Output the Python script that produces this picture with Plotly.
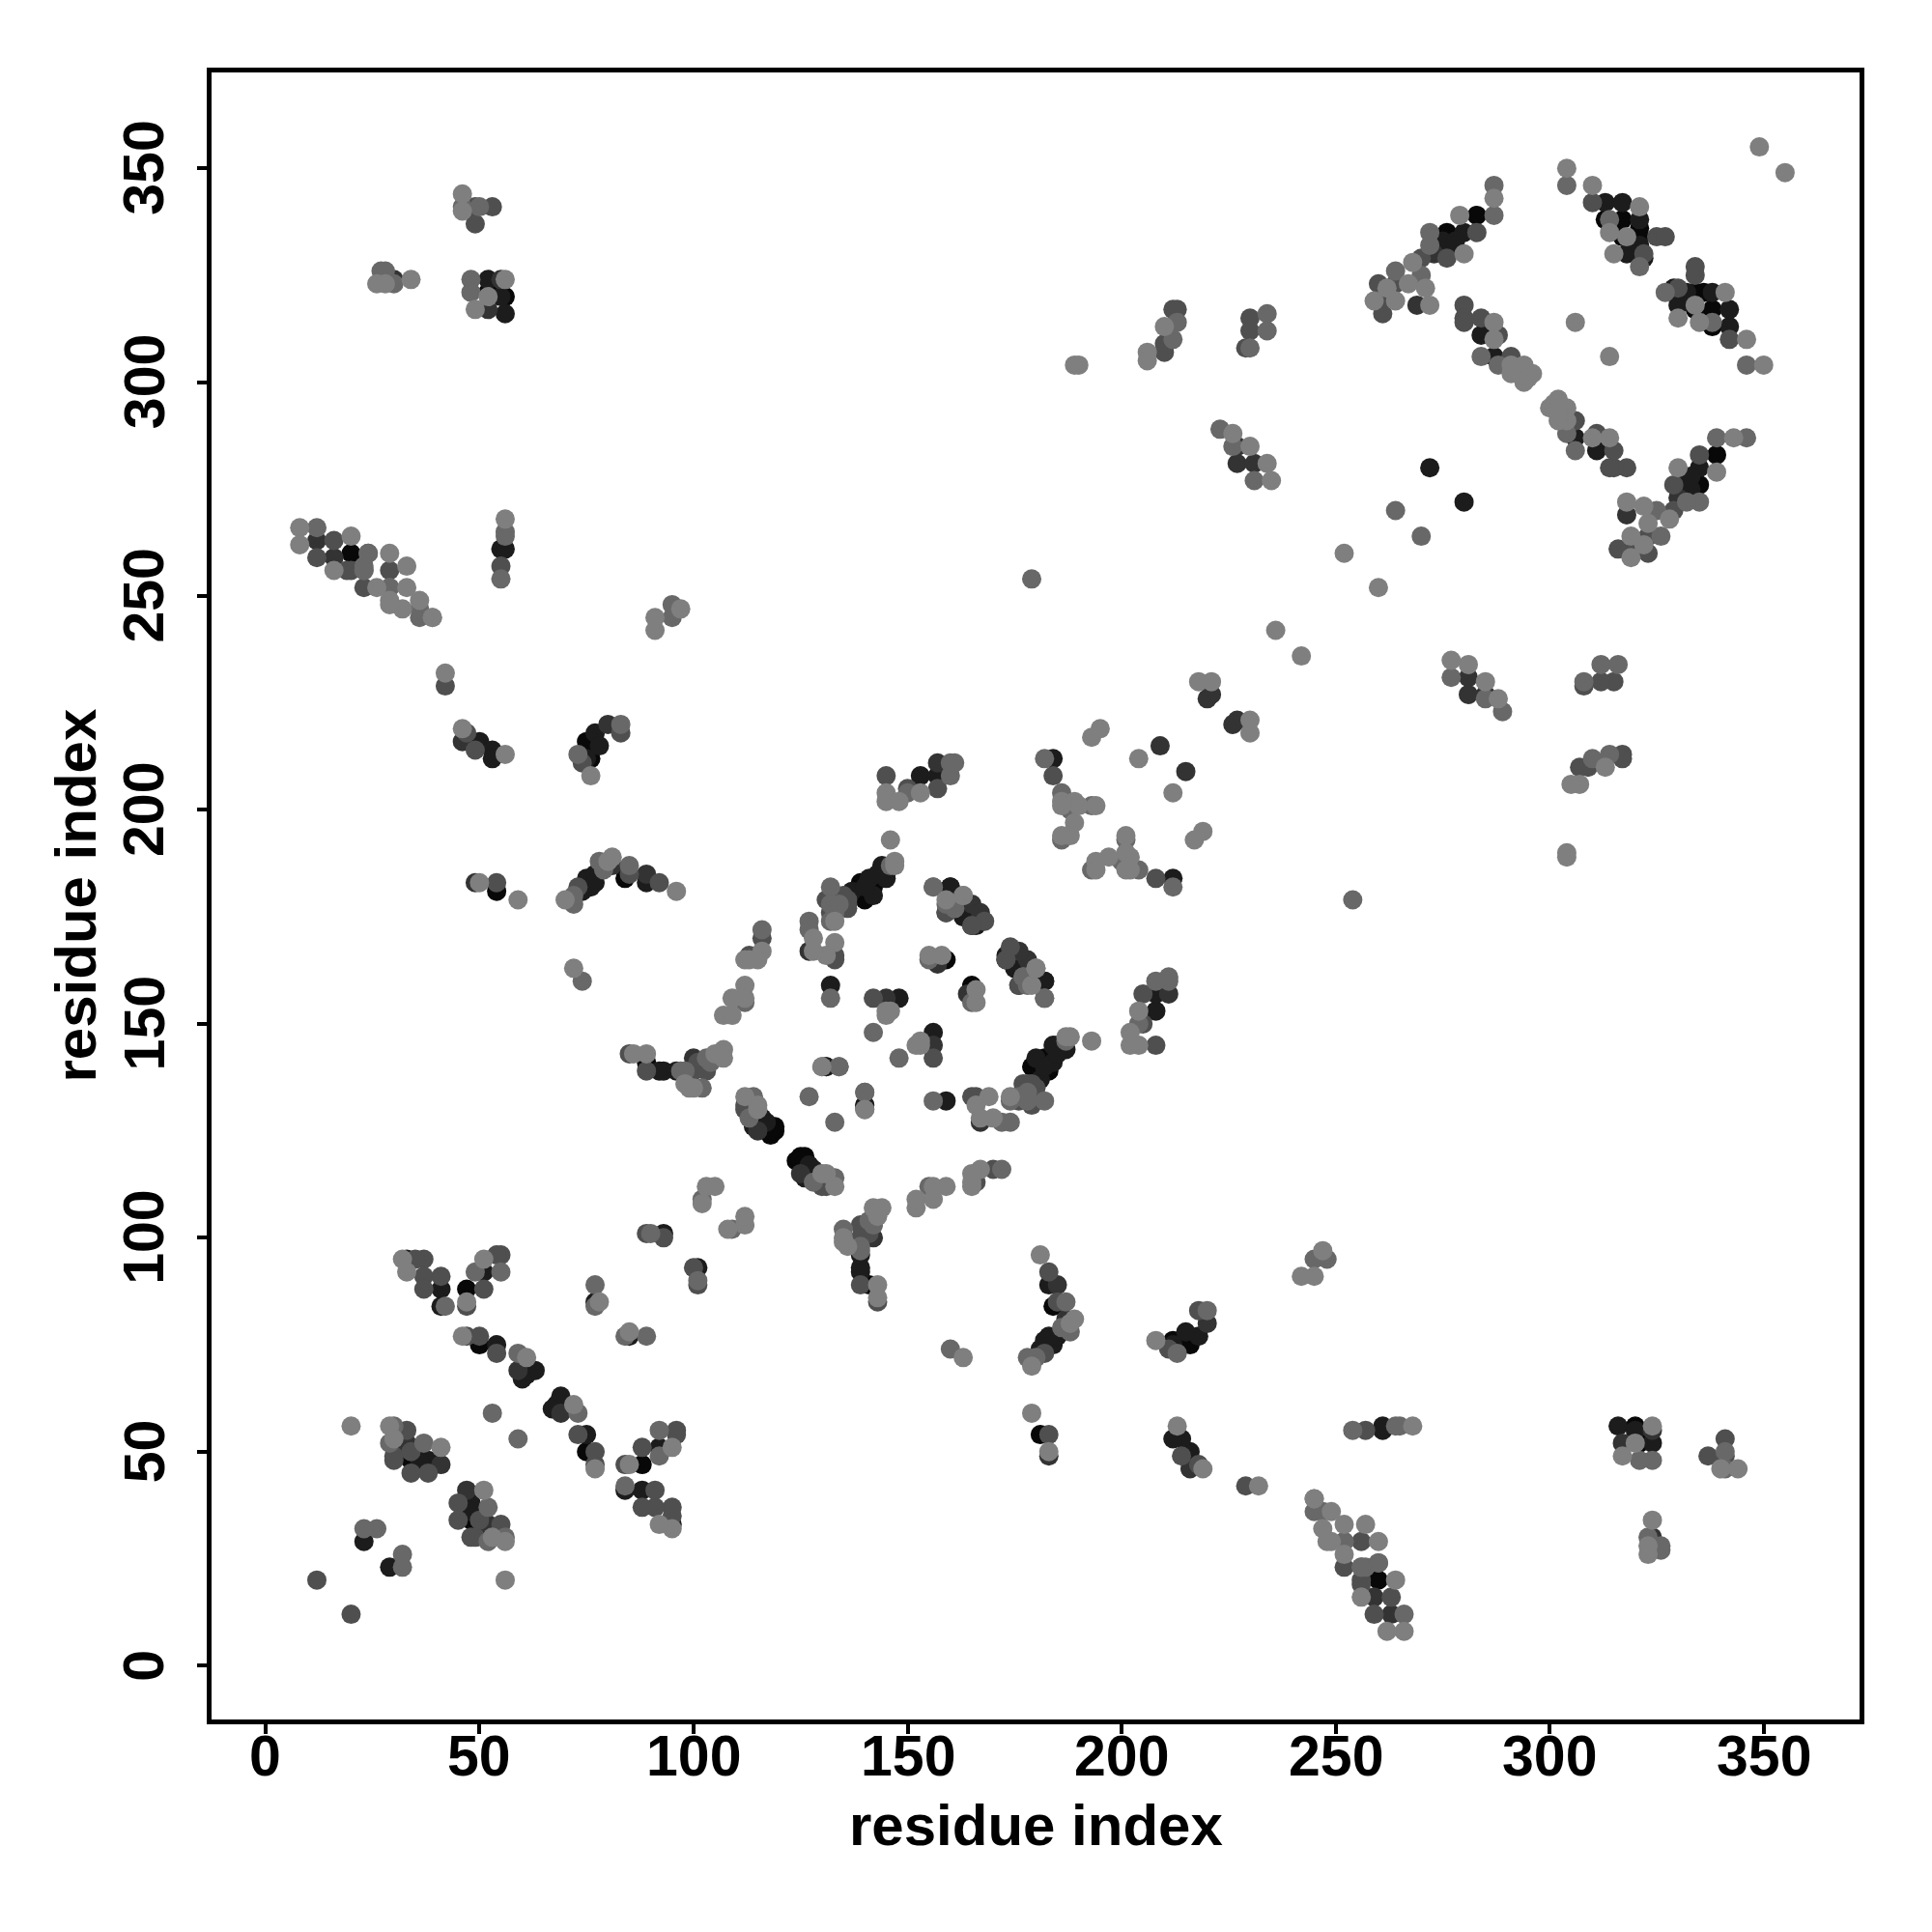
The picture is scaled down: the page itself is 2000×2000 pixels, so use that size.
import plotly.graph_objects as go

tick_values = [0, 50, 100, 150, 200, 250, 300, 350]
axis_label = "residue index"

# contact pairs (i < j), grouped by grey level; the map is symmetric
black_pairs = [(32,52),(34,48),(47,88),(50,75),(75,216),(76,212),(89,141),(119,126),(118,124),(119,125),(118,125),(116,127),
 (142,182),(139,183),(140,181),(140,179),(165,173),(159,165),(84,184),(20,260),(54,181),(52,321),(56,320),(283,339),(276,335),
 (313,338),(317,338),(317,334),(321,334),(321,336),(133,176)]
near_black_pairs = [(23,29),(38,48),(36,48),(30,52),(33,95),(41,88),(41,84),(51,92),(54,75),(61,68),(63,69),(60,67),(77,85),
 (93,101),(92,139),(93,139),(96,139),(100,140),(116,128),(117,127),(114,126),(132,159),(148,156),(131,140),(140,131),
 (145,185),(144,187),(141,184),(137,181),(142,180),(140,182),(145,184),(143,185),(160,182),(166,173),(164,175),(175,163),
 (182,160),(75,184),(76,182),(77,185),(74,181),(77,183),(89,183),(153,208),(157,208),(55,261),(56,261),(50,216),(53,214),
 (53,212),(77,218),(78,215),(75,212),(52,324),(56,316),(55,320),(184,212),(272,280),(280,335),(276,331),(275,333),(278,333),
 (313,342),(317,342),(321,338),(318,330),(322,329),(321,332),(284,311),(287,306)]
dark_pairs = [(33,52),(41,47),(59,69),(100,142),(115,125),(145,156),(159,176),(165,178),(167,176),(127,167),(157,164),(81,187),
 (89,185),(157,211),(12,263),(16,259),(46,216),(80,220),(49,183),(30,324),(52,317),(55,324),(209,215),(221,227),(220,226),
 (227,285),(227,281),(231,281),(273,330),(269,318)]
mid_dark_pairs = [(12,20),(33,55),(30,49),(30,48),(34,50),(34,45),(38,45),(37,95),(35,95),(37,91),(37,88),(41,91),(47,84),
 (55,96),(54,96),(51,88),(47,77),(50,77),(54,73),(85,143),(89,139),(89,101),(93,100),(100,139),(101,141),(103,139),(112,131),
 (112,130),(142,156),(135,180),(136,178),(131,179),(132,176),(132,179),(136,177),(136,179),(113,166),(116,170),(133,166),
 (133,165),(168,174),(173,165),(176,159),(73,182),(85,185),(92,183),(145,208),(150,205),(157,205),(12,259),(16,263),(19,256),
 (20,256),(24,260),(23,252),(29,256),(55,257),(42,229),(47,218),(49,214),(83,218),(74,211),(54,183),(49,341),(53,341),(49,337),
 (184,208),(213,317),(212,317),(210,309),(210,307),(230,315),(230,312),(229,308),(283,335),(276,329),(270,329),(264,323),
 (260,323),(260,319),(261,316),(310,342),(325,334),(327,334),(322,330),(280,318),(280,315),(280,314),(284,315),(288,311),(291,306)]
grey_pairs = [(26,32),(23,32),(30,56),(37,52),(29,52),(42,84),(55,92),(49,92),(59,73),(53,59),(77,89),(77,84),(90,101),(74,160),
 (98,139),(97,139),(102,135),(103,142),(104,141),(112,155),(102,109),(114,133),(113,128),(132,156),(142,148),(134,140),(127,133),
 (140,134),(140,130),(146,187),(132,182),(132,178),(133,176),(132,174),(156,182),(159,178),(161,177),(116,172),(127,174),(127,172),
 (177,161),(182,156),(72,178),(72,180),(78,188),(85,187),(79,186),(150,204),(160,211),(160,208),(161,211),(12,266),(23,257),(23,256),
 (29,252),(36,245),(36,247),(56,265),(56,264),(55,254),(95,248),(95,245),(96,247),(83,220),(73,213),(29,252),(24,260),(23,256),
 (46,341),(50,341),(27,326),(28,326),(30,323),(48,324),(48,321),(182,212),(186,204),(193,201),(186,193),(188,200),(179,254),
 (213,314),(212,310),(234,316),(234,312),(230,308),(223,289),(226,285),(231,277),(264,270),(287,346),(287,339),(272,335),(264,326),
 (272,332),(270,325),(304,346),(314,338),(321,327),(284,306),(288,304),(134,178),(165,155)]
light_pairs = [(20,56),(29,56),(30,53),(41,51),(32,95),(33,92),(51,95),(47,85),(46,77),(61,72),(78,85),(72,163),(86,143),(89,143),
 (98,136),(100,135),(105,143),(107,144),(107,142),(106,143),(99,135),(107,152),(109,152),(109,156),(112,159),(112,156),(103,112),(105,112),
 (102,108),(112,133),(115,131),(115,130),(145,153),(145,152),(146,153),(130,140),(147,188),(147,187),(133,174),(163,180),(116,167),
 (112,165),(115,165),(113,165),(128,170),(133,169),(131,166),(128,167),(155,166),(158,166),(180,163),(179,159),(70,179),(80,188),(81,189),
 (96,181),(145,204),(145,202),(148,202),(153,204),(146,193),(8,266),(8,262),(16,256),(20,264),(26,252),(29,260),(33,257),(29,249),
 (33,252),(32,247),(36,249),(39,245),(29,248),(39,245),(56,268),(97,247),(91,245),(91,242),(42,232),(46,219),(56,213),(76,208),
 (50,183),(59,179),(46,344),(46,340),(26,323),(28,323),(34,324),(49,317),(52,320),(56,324),(193,217),(195,219),(186,202),(189,202),
 (190,201),(189,197),(188,194),(186,194),(186,201),(194,201),(204,212),(218,230),(221,230),(189,304),(190,304),(210,313),(206,307),
 (206,305),(226,288),(230,285),(234,281),(235,277),(252,260),(236,242),(349,355),(287,343),(279,339),(280,330),(268,328),(264,319),
 (259,319),(267,323),(271,322),(272,318),(262,322),(304,350),(310,346),(321,341),(314,335),(318,334),(315,330),(306,314),(287,314),
 (287,310),(291,304),(294,304),(291,302),(294,300),(296,302),(293,302),(295,301)]

levels = [
    (black_pairs, "#080808"),
    (near_black_pairs, "#1c1c1c"),
    (dark_pairs, "#333333"),
    (mid_dark_pairs, "#4f4f4f"),
    (grey_pairs, "#686868"),
    (light_pairs, "#7f7f7f"),
]

fig = go.Figure()
for pairs, colour in levels:
    i = [p[0] for p in pairs]
    j = [p[1] for p in pairs]
    fig.add_trace(go.Scatter(
        x=i + j, y=j + i, mode="markers", showlegend=False,
        marker=dict(size=20, color=colour, line=dict(width=0)),
    ))

FONT = "Liberation Sans"
tick_font = dict(family=FONT, size=59, color="black", weight="bold")
title_font = dict(family=FONT, size=60, color="black", weight="bold")
axis = dict(
    range=[-12.6, 372.4], tickmode="array", tickvals=tick_values,
    ticks="outside", ticklen=10, tickwidth=4, tickcolor="black",
    showline=True, linecolor="black", linewidth=5, mirror=True,
    showgrid=False, zeroline=False, showticklabels=False,
)
fig.update_layout(
    width=2000, height=2000, paper_bgcolor="white", plot_bgcolor="white",
    margin=dict(l=211, r=83, t=67, b=228, autoexpand=False),
    font=dict(family=FONT, color="black"),
    xaxis=axis, yaxis=axis,
)

# plot area spans 1706 x 1705 px; labels are placed relative to it
W, H = 1706, 1705
for v in tick_values:
    fig.add_annotation(x=v, xref="x", y=-37.5 / H, yref="paper", text=str(v), showarrow=False,
                       font=tick_font, xanchor="center", yanchor="middle")
    fig.add_annotation(y=v, yref="y", x=-69.5 / W, xref="paper", text=str(v), showarrow=False,
                       font=tick_font, textangle=-90, xanchor="center", yanchor="middle")
fig.add_annotation(x=0.5, xref="paper", y=-109 / H, yref="paper", text=axis_label, showarrow=False,
                   font=title_font, xanchor="center", yanchor="middle")
fig.add_annotation(y=0.5, yref="paper", x=-141 / W, xref="paper", text=axis_label, showarrow=False,
                   font=title_font, textangle=-90, xanchor="center", yanchor="middle")
fig.write_html("out.html")
